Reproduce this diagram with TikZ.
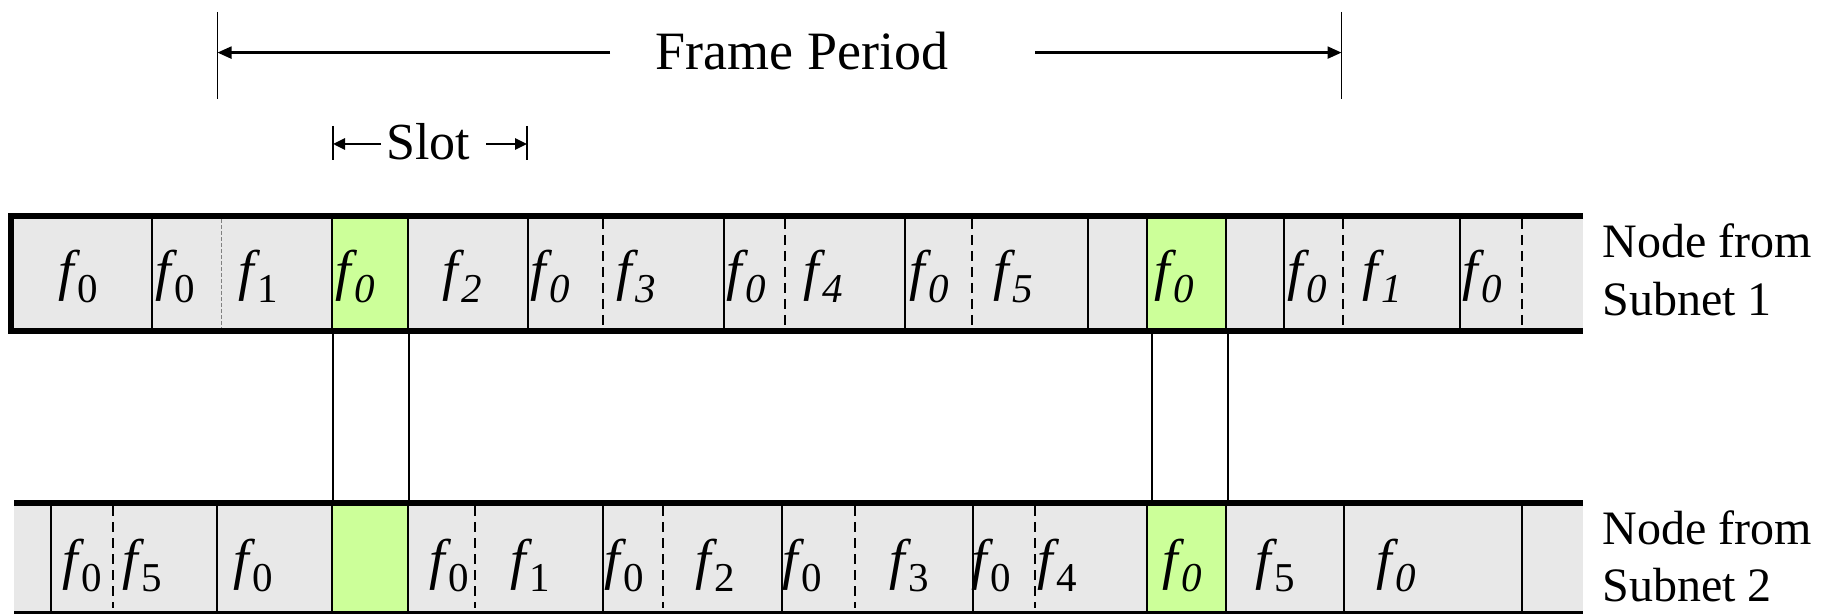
\documentclass[tikz,border=0pt]{standalone}
\usepackage{fontspec}
\setmainfont{Liberation Serif}
\usetikzlibrary{arrows.meta}

\definecolor{cellgray}{RGB}{232,232,232}
\definecolor{cellgreen}{RGB}{204,255,153}

% f with an upright or a slanted subscript
\newcommand\fup[1]{\textit{f}\kern-1.5pt\raisebox{-6.5pt}{\fontsize{20.5}{20.5}\selectfont #1}}
\newcommand\fsl[1]{\textit{f}\kern-1.5pt\raisebox{-6.5pt}{\fontsize{20.5}{20.5}\selectfont\itshape #1}}

\tikzset{
  barborder/.style={line width=3pt, line join=miter},
  slotline/.style={line width=1.4pt},
  subline/.style={line width=0.9pt, dash pattern=on 5pt off 3pt},
  faintline/.style={line width=0.4pt, draw=gray, dash pattern=on 2pt off 1pt},
  link/.style={line width=1pt},
  dimline/.style={line width=1.1pt},
  dimtick/.style={line width=0.9pt},
  lbl/.style={font=\fontsize{28}{28}\selectfont, inner sep=0pt, anchor=base},
  sidetext/.style={font=\fontsize{24}{24}\selectfont, inner sep=0pt, anchor=base west},
  headtext/.style={font=\fontsize{27}{27}\selectfont, inner sep=0pt, anchor=base},
}

\begin{document}
\begin{tikzpicture}[x=0.5pt,y=-0.5pt]
\useasboundingbox (0,0) rectangle (1834,614);

% ---------- frame period dimension ----------
\draw[dimtick] (217.5,12) -- (217.5,99);
\draw[dimtick] (1341.5,12) -- (1341.5,99);
\node[headtext] (fp) at (802,70) {Frame Period};
\coordinate (fpL) at (217.5,52.6);
\coordinate (fpR) at (1341.5,52.6);
\coordinate (fpa) at (610,52.6);
\coordinate (fpb) at (1035,52.6);
\draw[dimline,-{Triangle[length=7pt,width=6pt]}] (fpa) -- (fpL);
\draw[dimline,-{Triangle[length=7pt,width=6pt]}] (fpb) -- (fpR);

% ---------- slot dimension ----------
\draw[dimtick] (333,126) -- (333,160);
\draw[dimtick] (527,126) -- (527,160);
\node[headtext, font=\fontsize{26}{26}\selectfont] (slot) at (428,160) {Slot};
\coordinate (slL) at (333,144);
\coordinate (slR) at (527,144);
\coordinate (sla) at (381,144);
\coordinate (slb) at (486,144);
\draw[dimline,line width=1.4pt,-{Triangle[length=6pt,width=5.5pt]}] (sla) -- (slL);
\draw[dimline,line width=1.4pt,-{Triangle[length=6pt,width=5.5pt]}] (slb) -- (slR);

% ---------- subnet 1 frame ----------
\fill[cellgray] (11,216) rectangle (1583,331);
\fill[cellgreen] (332,216) rectangle (408,331);
\fill[cellgreen] (1147,216) rectangle (1226,331);
\foreach \x in {152,332,408,528,724,905,1088,1147,1226,1284,1460}
  \draw[slotline] (\x,216) -- (\x,331);
\foreach \x in {603,785,972,1343,1522}
  \draw[subline] (\x,219) -- (\x,328);
\draw[faintline] (221,219) -- (221,328);
\draw[barborder] (1583,216) -- (11,216) -- (11,331) -- (1583,331);

\node[lbl] (t1)  at (78,290)   {\fup{0}};
\node[lbl] (t2)  at (175,290)  {\fup{0}};
\node[lbl] (t3)  at (258,290)  {\fup{1}};
\node[lbl] (t4)  at (355,290)  {\fsl{0}};
\node[lbl] (t5)  at (462,290)  {\fsl{2}};
\node[lbl] (t6)  at (550,290)  {\fsl{0}};
\node[lbl] (t7)  at (636,290)  {\fsl{3}};
\node[lbl] (t8)  at (746,290)  {\fsl{0}};
\node[lbl] (t9)  at (823,290)  {\fsl{4}};
\node[lbl] (t10) at (929,290)  {\fsl{0}};
\node[lbl] (t11) at (1013,290) {\fsl{5}};
\node[lbl] (t12) at (1174,290) {\fsl{0}};
\node[lbl] (t13) at (1307,290) {\fsl{0}};
\node[lbl] (t14) at (1382,290) {\fsl{1}};
\node[lbl] (t15) at (1482,290) {\fsl{0}};

\node[sidetext] (n1a) at (1602,258) {Node from};
\node[sidetext] (n1b) at (1602,316) {Subnet 1};

% ---------- subnet 2 frame ----------
\fill[cellgray] (14,503) rectangle (1583,614);
\fill[cellgreen] (332,503) rectangle (408,614);
\fill[cellgreen] (1147,503) rectangle (1226,614);
\foreach \x in {51,217,332,408,603,782,973,1147,1226,1344,1522}
  \draw[slotline] (\x,503) -- (\x,611);
\foreach \x in {113,475,663,855,1035}
  \draw[subline] (\x,506) -- (\x,608);
\draw[barborder] (14,503) -- (1583,503);
\draw[barborder] (14,614) -- (1583,614);

\node[lbl] (b1)  at (82,578)   {\fup{0}};
\node[lbl] (b2)  at (142,578)  {\fup{5}};
\node[lbl] (b3)  at (253,578)  {\fup{0}};
\node[lbl] (b4)  at (449,578)  {\fup{0}};
\node[lbl] (b5)  at (530,578)  {\fup{1}};
\node[lbl] (b6)  at (624,578)  {\fup{0}};
\node[lbl] (b7)  at (715,578)  {\fup{2}};
\node[lbl] (b8)  at (802,578)  {\fup{0}};
\node[lbl] (b9)  at (909,578)  {\fup{3}};
\node[lbl] (b10) at (991,578)  {\fup{0}};
\node[lbl] (b11) at (1057,578) {\fup{4}};
\node[lbl] (b12) at (1182,578) {\fsl{0}};
\node[lbl] (b13) at (1275,578) {\fup{5}};
\node[lbl] (b14) at (1396,578) {\fsl{0}};

\node[sidetext] (n2a) at (1602,544) {Node from};
\node[sidetext] (n2b) at (1602,601) {Subnet 2};

% ---------- links between the shared slots ----------
\coordinate (k1t) at (333,334);  \coordinate (k1b) at (333,500);
\coordinate (k2t) at (409,334);  \coordinate (k2b) at (409,500);
\coordinate (k3t) at (1152,334); \coordinate (k3b) at (1152,500);
\coordinate (k4t) at (1228,334); \coordinate (k4b) at (1228,500);
\draw[link] (k1t) -- (k1b);
\draw[link] (k2t) -- (k2b);
\draw[link] (k3t) -- (k3b);
\draw[link] (k4t) -- (k4b);
\end{tikzpicture}
\end{document}
